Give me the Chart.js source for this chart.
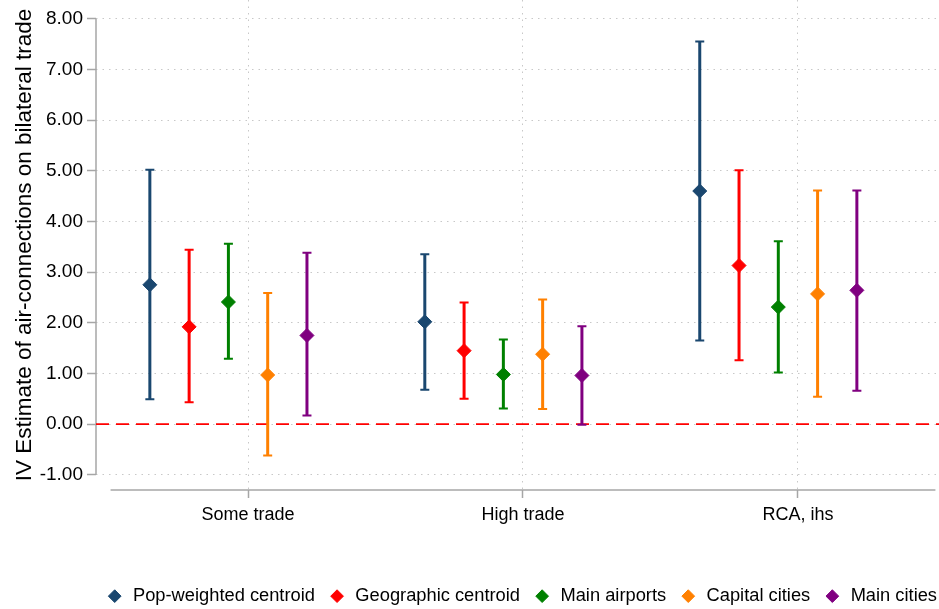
<!DOCTYPE html>
<html>
<head>
<meta charset="utf-8">
<script src="https://cdn.jsdelivr.net/npm/chart.js@4/dist/chart.umd.min.js"></script>
<style>
  html, body { margin: 0; padding: 0; background: #fff; }
  #wrap { width: 939px; height: 609px; }
</style>
</head>
<body>
<div id="wrap"><canvas id="coefChart" width="939" height="609"></canvas></div>
<script>
// categories on the x axis
const categories = ['Some trade', 'High trade', 'RCA, ihs'];
const seriesNames = ['Pop-weighted centroid', 'Geographic centroid', 'Main airports', 'Capital cities', 'Main cities'];
const seriesColors = ['#1a476f', '#ff0000', '#008000', '#ff8000', '#800080'];

// point estimates, one value per category
const popWeighted = [2.75, 2.02, 4.60];
const geographic = [1.92, 1.45, 3.13];
const mainAirports = [2.41, 0.98, 2.31];
const capitalCities = [0.97, 1.38, 2.57];
const mainCities = [1.75, 0.96, 2.64];

// confidence interval bounds
const popWeightedLo = [0.49, 0.68, 1.65];
const popWeightedHi = [5.02, 3.35, 7.55];
const geographicLo = [0.43, 0.50, 1.26];
const geographicHi = [3.44, 2.40, 5.01];
const mainAirportsLo = [1.29, 0.31, 1.02];
const mainAirportsHi = [3.56, 1.67, 3.61];
const capitalCitiesLo = [-0.62, 0.30, 0.54];
const capitalCitiesHi = [2.59, 2.46, 4.61];
const mainCitiesLo = [0.17, -0.01, 0.66];
const mainCitiesHi = [3.38, 1.93, 4.61];

const yTicks = [-1, 0, 1, 2, 3, 4, 5, 6, 7, 8];

const estimates = [popWeighted, geographic, mainAirports, capitalCities, mainCities];
const lows = [popWeightedLo, geographicLo, mainAirportsLo, capitalCitiesLo, mainCitiesLo];
const highs = [popWeightedHi, geographicHi, mainAirportsHi, capitalCitiesHi, mainCitiesHi];

// series sit side by side around each category
const offsets = [-2.5, -1.5, -0.5, 0.5, 1.5].map(k => k / 7);

const datasets = seriesNames.map((name, s) => ({
    label: name,
    data: estimates[s].map((v, c) => ({ x: c + 1 + offsets[s], y: v, lo: lows[s][c], hi: highs[s][c] })),
    backgroundColor: seriesColors[s],
    borderColor: seriesColors[s],
    pointStyle: 'rectRot',
    pointRadius: 7,
    pointHoverRadius: 7,
    borderWidth: 1
}));

const font = 'Liberation Sans, Arial, Helvetica, sans-serif';

const errorBars = {
    id: 'errorBars',
    afterLayout(chart) {
        // nudge the legend row a bit to the right, like the original
        chart.legend.left += 11;
        chart.legend.right += 11;
    },
    beforeDatasetsDraw(chart) {
        const { ctx, scales: { x, y } } = chart;
        ctx.save();
        // axis lines (stata style: y line spans the tick range)
        ctx.strokeStyle = '#a6a6a6';
        ctx.lineWidth = 1.5;
        ctx.beginPath();
        ctx.moveTo(chart.chartArea.left, y.getPixelForValue(yTicks[yTicks.length - 1]));
        ctx.lineTo(chart.chartArea.left, y.getPixelForValue(yTicks[0]));
        ctx.moveTo(x.getPixelForValue(0.5), chart.chartArea.bottom);
        ctx.lineTo(x.getPixelForValue(categories.length + 0.5), chart.chartArea.bottom);
        ctx.stroke();

        // zero reference line
        ctx.strokeStyle = '#ff0000';
        ctx.lineWidth = 1.6;
        ctx.setLineDash([13, 7]);
        ctx.beginPath();
        ctx.moveTo(chart.chartArea.left, y.getPixelForValue(0));
        ctx.lineTo(chart.chartArea.right, y.getPixelForValue(0));
        ctx.stroke();
        ctx.setLineDash([]);

        chart.data.datasets.forEach(ds => {
            ctx.strokeStyle = ds.borderColor;
            ds.data.forEach(p => {
                const px = x.getPixelForValue(p.x);
                const top = y.getPixelForValue(p.hi);
                const bot = y.getPixelForValue(p.lo);
                ctx.lineWidth = 3;
                ctx.beginPath();
                ctx.moveTo(px, top);
                ctx.lineTo(px, bot);
                ctx.stroke();
                ctx.lineWidth = 2;
                ctx.beginPath();
                ctx.moveTo(px - 4.5, top);
                ctx.lineTo(px + 4.5, top);
                ctx.moveTo(px - 4.5, bot);
                ctx.lineTo(px + 4.5, bot);
                ctx.stroke();
            });
        });
        ctx.restore();
    }
};

new Chart(document.getElementById('coefChart'), {
    type: 'scatter',
    data: { datasets },
    plugins: [errorBars],
    options: {
        responsive: false,
        animation: false,
        layout: { autoPadding: false, padding: 0 },
        plugins: {
            tooltip: { enabled: false },
            legend: {
                position: 'bottom',
                align: 'end',
                maxHeight: 35,
                labels: {
                    usePointStyle: true,
                    boxHeight: 9,
                    padding: 13,
                    color: '#000',
                    font: { family: font, size: 18.3 }
                }
            }
        },
        scales: {
            x: {
                type: 'linear',
                min: 0.447,
                max: 3.513,
                afterBuildTicks: scale => { scale.ticks = categories.map((c, i) => ({ value: i + 1 })); },
                afterFit: scale => {
                    scale.height = 84;
                    scale.paddingLeft = 0;
                    scale.paddingRight = 0;
                },
                ticks: {
                    color: '#000',
                    padding: 6,
                    font: { family: font, size: 18 },
                    callback: v => categories[v - 1]
                },
                grid: { color: '#c8c8c8', tickColor: '#a6a6a6', tickLength: 8, tickWidth: 1.5 },
                border: { display: false, dash: [1.5, 5] }
            },
            y: {
                min: -1.3,
                max: 8.37,
                afterBuildTicks: scale => { scale.ticks = yTicks.map(v => ({ value: v })); },
                afterFit: scale => {
                    scale.width = 96;
                    scale.paddingTop = 0;
                    scale.paddingBottom = 0;
                },
                title: {
                    display: true,
                    text: 'IV Estimate of air-connections on bilateral trade',
                    color: '#000',
                    font: { family: font, size: 22.5 },
                    padding: { top: 11, bottom: 0 }
                },
                ticks: {
                    color: '#000',
                    padding: 4,
                    font: { family: font, size: 19 },
                    callback: v => v.toFixed(2)
                },
                grid: { color: '#c8c8c8', tickColor: '#a6a6a6', tickLength: 9, tickWidth: 1.5 },
                border: { display: false, dash: [1.5, 5] }
            }
        }
    }
});
</script>
</body>
</html>
